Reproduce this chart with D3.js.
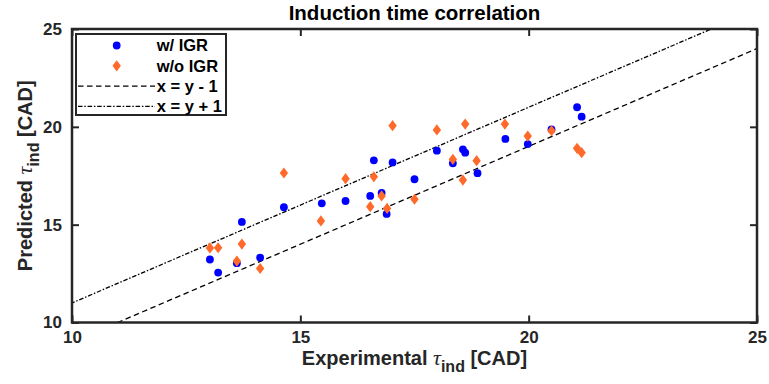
<!DOCTYPE html>
<html>
<head>
<meta charset="utf-8">
<script src="https://cdn.jsdelivr.net/npm/d3@7"></script>
<style>
	body { margin: 0; background: #fff; }
	svg { display: block; font-family: "Liberation Sans", Arial, sans-serif; font-weight: bold; }
</style>
</head>
<body>
<svg id="chart" width="769" height="384"></svg>
<script>
// experimental vs predicted induction time
const expWithIGR = [13.02, 13.20, 13.61, 13.72, 14.12, 14.64, 15.47, 15.99, 16.53, 16.61, 16.78, 16.89,
	17.02, 17.50, 17.99, 18.34, 18.56, 18.61, 18.88, 19.49, 19.98, 20.50, 21.06, 21.16]
const predWithIGR = [13.22, 12.55, 13.03, 15.14, 13.32, 15.89, 16.09, 16.21, 16.47, 18.29, 16.62, 15.55,
	18.18, 17.32, 18.78, 18.14, 18.85, 18.68, 17.63, 19.38, 19.12, 19.87, 21.00, 20.52]
const expWithoutIGR = [13.02, 13.20, 13.61, 13.72, 14.12, 14.64, 15.45, 15.99, 16.53, 16.61, 16.78, 16.90,
	17.02, 17.50, 17.99, 18.34, 18.56, 18.61, 18.86, 19.48, 19.98, 20.50, 21.06, 21.16]
const predWithoutIGR = [13.81, 13.82, 13.14, 14.01, 12.76, 17.64, 15.19, 17.35, 15.92, 17.45, 16.47, 15.83,
	20.06, 16.30, 19.84, 18.34, 17.28, 20.14, 18.27, 20.14, 19.53, 19.80, 18.90, 18.68]
const xTicks = [10, 15, 20, 25]
const yTicks = [10, 15, 20, 25]
const legendLabels = ["w/ IGR", "w/o IGR", "x = y - 1", "x = y + 1"]

const margin = {top: 29, right: 12, bottom: 61.5, left: 72}
const width = 769
const height = 384
const plotWidth = width - margin.left - margin.right
const plotHeight = height - margin.top - margin.bottom
const axisColor = "#262626"
const orange = "#ff6a2b"

const svg = d3.select("#chart")
const plot = svg.append("g")
	.attr("transform", "translate(" + margin.left + "," + margin.top + ")")

const x = d3.scaleLinear().domain([10, 25]).range([0, plotWidth])
const y = d3.scaleLinear().domain([10, 25]).range([plotHeight, 0])

plot.append("defs").append("clipPath").attr("id", "clip")
	.append("rect").attr("width", plotWidth).attr("height", plotHeight)

// reference lines y = x - 1 (dashed) and y = x + 1 (dash-dot)
const refLines = [
	{offset: -1, dash: "5.5,3.5"},
	{offset: 1, dash: "4.5,1.8,1.5,1.8"},
]
const line = d3.line().x(d => x(d[0])).y(d => y(d[1]))
plot.append("g").attr("clip-path", "url(#clip)")
	.selectAll("path")
	.data(refLines)
	.join("path")
	.attr("fill", "none")
	.attr("stroke", "black")
	.attr("stroke-width", 1.3)
	.attr("stroke-dasharray", d => d.dash)
	.attr("d", d => line([[9, 9 + d.offset], [26, 26 + d.offset]]))

// markers
const withIGR = expWithIGR.map((v, i) => [v, predWithIGR[i]])
const withoutIGR = expWithoutIGR.map((v, i) => [v, predWithoutIGR[i]])
const diamond = "M0,-5.6L4.2,0L0,5.6L-4.2,0Z"

plot.append("g").selectAll("circle")
	.data(withIGR)
	.join("circle")
	.attr("cx", d => x(d[0]))
	.attr("cy", d => y(d[1]))
	.attr("r", 3.9)
	.attr("fill", "#0000ff")

plot.append("g").selectAll("path")
	.data(withoutIGR)
	.join("path")
	.attr("transform", d => "translate(" + x(d[0]) + "," + y(d[1]) + ")")
	.attr("d", diamond)
	.attr("fill", orange)

// axes with inward ticks on all four sides
const tickLen = 7
plot.append("g")
	.attr("transform", "translate(0," + plotHeight + ")")
	.call(d3.axisBottom(x).tickValues(xTicks).tickSize(-tickLen).tickPadding(tickLen + 1))
plot.append("g")
	.call(d3.axisTop(x).tickValues(xTicks).tickSize(-tickLen).tickFormat(""))
plot.append("g")
	.call(d3.axisLeft(y).tickValues(yTicks).tickSize(-tickLen).tickPadding(tickLen + 3))
plot.append("g")
	.attr("transform", "translate(" + plotWidth + ",0)")
	.call(d3.axisRight(y).tickValues(yTicks).tickSize(-tickLen).tickFormat(""))

plot.selectAll(".domain").remove()
plot.selectAll(".tick line").attr("stroke", axisColor).attr("stroke-width", 2)
plot.selectAll(".tick text")
	.attr("fill", axisColor)
	.style("font-size", "17px")
	.style("font-weight", "bold")
	.style("font-family", "'Liberation Sans', Arial, sans-serif")
plot.append("rect")
	.attr("width", plotWidth)
	.attr("height", plotHeight)
	.attr("fill", "none")
	.attr("stroke", axisColor)
	.attr("stroke-width", 2.5)

// title and axis labels
svg.append("text")
	.attr("x", margin.left + plotWidth / 2)
	.attr("y", 20)
	.attr("text-anchor", "middle")
	.style("font-size", "20.5px")
	.text("Induction time correlation")

function tauLabel(sel, before) {
	sel.append("tspan").text(before)
	sel.append("tspan")
		.style("font-family", "'Liberation Serif', serif")
		.style("font-style", "italic")
		.style("font-weight", "normal")
		.style("font-size", "22px")
		.text("\u03c4")
	sel.append("tspan").attr("dy", 7).style("font-size", "16px").text("ind")
	sel.append("tspan").attr("dy", -7).text(" [CAD]")
}

svg.append("text")
	.attr("x", margin.left + plotWidth / 2)
	.attr("y", 365)
	.attr("text-anchor", "middle")
	.attr("fill", axisColor)
	.style("font-size", "20px")
	.call(tauLabel, "Experimental ")

svg.append("text")
	.attr("transform", "translate(32," + (margin.top + plotHeight / 2) + ") rotate(-90)")
	.attr("text-anchor", "middle")
	.attr("fill", axisColor)
	.style("font-size", "20px")
	.call(tauLabel, "Predicted ")

// legend
const legend = svg.append("g").attr("transform", "translate(76,34)")
legend.append("rect")
	.attr("width", 150)
	.attr("height", 81)
	.attr("fill", "white")
	.attr("stroke", axisColor)
	.attr("stroke-width", 2)
const rowY = i => 11.5 + i * 20.3
legend.append("circle").attr("cx", 40.7).attr("cy", rowY(0)).attr("r", 3.9).attr("fill", "#0000ff")
legend.append("path").attr("transform", "translate(40.7," + rowY(1) + ")").attr("d", diamond).attr("fill", orange)
refLines.forEach((d, i) => {
	legend.append("line")
		.attr("x1", 2).attr("x2", 79)
		.attr("y1", rowY(i + 2)).attr("y2", rowY(i + 2))
		.attr("stroke", "black")
		.attr("stroke-width", 1.3)
		.attr("stroke-dasharray", d.dash)
})
legend.selectAll("text.lab")
	.data(legendLabels)
	.join("text")
	.attr("class", "lab")
	.attr("x", 80.7)
	.attr("y", (d, i) => rowY(i))
	.attr("dy", "0.36em")
	.style("font-size", "16.5px")
	.text(d => d)
</script>
</body>
</html>
